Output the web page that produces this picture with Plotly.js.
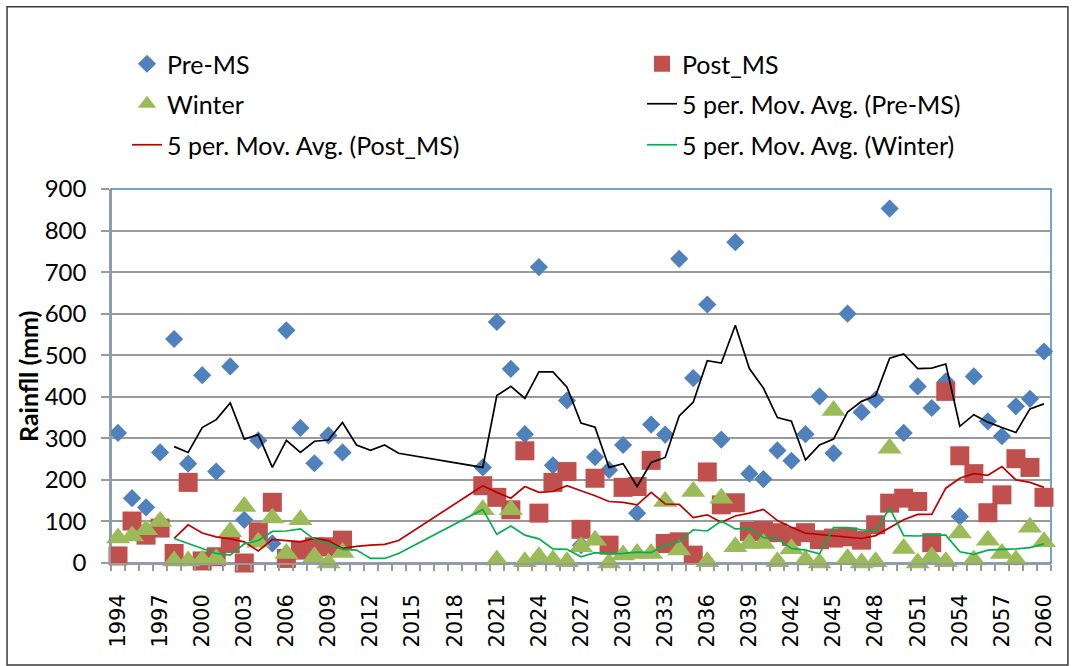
<!DOCTYPE html>
<html>
<head>
<meta charset="utf-8">
<script src="https://cdn.plot.ly/plotly-3.0.1.min.js"></script>
<style>
  html, body { margin: 0; padding: 0; background: #fff; }
  #myDiv { width: 1073px; height: 666px; }
</style>
</head>
<body>
<div id="myDiv"></div>
<script>
// observed years (no data 2011-2019)
var years = [1994, 1995, 1996, 1997, 1998, 1999, 2000, 2001, 2002, 2003, 2004, 2005, 2006, 2007, 2008, 2009, 2010,
  2020, 2021, 2022, 2023, 2024, 2025, 2026, 2027, 2028, 2029, 2030, 2031, 2032, 2033, 2034, 2035, 2036, 2037, 2038, 2039, 2040,
  2041, 2042, 2043, 2044, 2045, 2046, 2047, 2048, 2049, 2050, 2051, 2052, 2053, 2054, 2055, 2056, 2057, 2058, 2059, 2060];

var preMS = [313, 156, 134, 266, 539, 239, 452, 220, 473, 104, 295, 47, 560, 325, 240, 307, 266,
  230, 580, 467, 310, 712, 235, 391, 43, 255, 224, 284, 120, 333, 309, 732, 445, 622, 297, 772, 215, 202,
  271, 246, 310, 401, 264, 600, 363, 393, 853, 313, 425, 373, 437, 112, 449, 341, 305, 377, 395, 509];

var postMS = [17, 101, 67, 84, 23, 194, 5, 15, 47, 0, 75, 146, 11, 31, 39, 39, 55,
  186, 158, 128, 270, 120, 194, 220, 81, 204, 43, 182, 184, 247, 47, 51, 19, 219, 140, 145, 76, 78,
  73, 64, 73, 56, 60, 63, 55, 92, 144, 156, 148, 49, 413, 258, 215, 121, 164, 251, 230, 158];

var winter = [60, 65, 80, 100, 5, 5, 7, 10, 75, 136, 50, 108, 23, 104, 15, 0, 25,
  128, 7, 128, 3, 15, 7, 3, 39, 55, 0, 19, 23, 23, 148, 31, 172, 3, 156, 39, 47, 47,
  3, 34, 7, 0, 367, 11, 0, 3, 276, 35, 0, 15, 3, 72, 7, 55, 23, 7, 86, 51];

// 5 per. moving average trendlines as drawn (Excel plots 2011-2014, then jumps to 2020)
var maYears = [1998, 1999, 2000, 2001, 2002, 2003, 2004, 2005, 2006, 2007, 2008, 2009, 2010, 2011, 2012, 2013, 2014,
  2020, 2021, 2022, 2023, 2024, 2025, 2026, 2027, 2028, 2029, 2030, 2031, 2032, 2033, 2034, 2035, 2036, 2037, 2038, 2039, 2040,
  2041, 2042, 2043, 2044, 2045, 2046, 2047, 2048, 2049, 2050, 2051, 2052, 2053, 2054, 2055, 2056, 2057, 2058, 2059, 2060];

var maPre = [280, 266, 326, 345, 385, 298, 309, 230, 295, 266, 293, 296, 338, 284, 271, 284, 264,
  230, 403, 425, 396, 460, 460, 423, 337, 327, 230, 239, 184, 242, 254, 354, 387, 487, 481, 572, 468, 421,
  350, 341, 248, 284, 298, 363, 389, 403, 493, 503, 468, 469, 479, 329, 357, 339, 326, 314, 371, 383];

var maPost = [59, 92, 72, 63, 58, 51, 29, 57, 54, 51, 59, 54, 35, 40, 43, 45, 54,
  186, 170, 156, 184, 170, 172, 186, 174, 162, 148, 146, 140, 170, 142, 141, 109, 116, 98, 113, 120, 129,
  102, 86, 72, 69, 66, 62, 59, 66, 84, 104, 117, 117, 180, 204, 215, 211, 232, 200, 194, 182];

var maWinter = [59, 47, 35, 23, 19, 46, 54, 76, 77, 82, 57, 47, 33, 31, 11, 11, 23,
  129, 69, 89, 67, 58, 34, 33, 15, 25, 22, 23, 26, 25, 43, 51, 80, 77, 101, 82, 84, 61,
  59, 35, 31, 22, 85, 85, 80, 77, 132, 66, 65, 67, 67, 27, 21, 31, 33, 34, 37, 46];

var tickYears = [1994, 1997, 2000, 2003, 2006, 2009, 2012, 2015, 2018, 2021, 2024, 2027, 2030,
  2033, 2036, 2039, 2042, 2045, 2048, 2051, 2054, 2057, 2060];

var data = [
  {
    x: years, y: preMS, name: "Pre-MS", type: "scatter", mode: "markers",
    marker: { symbol: "diamond", size: 14, color: "#4F81BD" },
    cliponaxis: false, legend: "legend",
  },
  {
    x: years, y: postMS, name: "Post_MS", type: "scatter", mode: "markers",
    marker: { symbol: "square", size: 19, color: "#C0504D" },
    cliponaxis: false, legend: "legend2",
  },
  {
    x: years, y: winter, name: "Winter", type: "scatter", mode: "markers",
    marker: { symbol: "triangle-up", size: 21, color: "#9BBB59" },
    cliponaxis: false, legend: "legend3",
  },
  {
    x: maYears, y: maPre, name: "5 per. Mov. Avg. (Pre-MS)", type: "scatter", mode: "lines",
    line: { color: "#000000", width: 1.7 }, legend: "legend4",
  },
  {
    x: maYears, y: maPost, name: "5 per. Mov. Avg. (Post_MS)", type: "scatter", mode: "lines",
    line: { color: "#C00000", width: 1.7 }, legend: "legend5",
  },
  {
    x: maYears, y: maWinter, name: "5 per. Mov. Avg. (Winter)", type: "scatter", mode: "lines",
    line: { color: "#00B050", width: 1.7 }, legend: "legend6",
  },
];

// one legend box per entry, laid out as Excel's two-column legend
var legendFont = { family: "Lato, sans-serif", size: 25, color: "#000" };
function legendAt(xPix, yPix) {
  return {
    xref: "container", yref: "container",
    x: xPix / 1073, y: 1 - yPix / 666,
    xanchor: "left", yanchor: "middle",
    font: legendFont,
    bgcolor: "rgba(0,0,0,0)",
  };
}

var layout = {
  width: 1073,
  height: 666,
  paper_bgcolor: "#ffffff",
  plot_bgcolor: "#ffffff",
  margin: { l: 111, r: 22, t: 189, b: 103, autoexpand: false },
  showlegend: true,
  legend: legendAt(127, 64),
  legend2: legendAt(642, 64),
  legend3: legendAt(127, 104),
  legend4: legendAt(642, 104),
  legend5: legendAt(127, 145),
  legend6: legendAt(642, 145),
  xaxis: {
    range: [1993.5, 2060.5],
    tickmode: "array",
    tickvals: tickYears,
    ticktext: tickYears.map(String),
    tickangle: -90,
    ticks: "",
    ticklabelstandoff: 21,
    tickfont: { family: "DejaVu Sans, sans-serif", size: 21, color: "#000" },
    showgrid: false,
    zeroline: false,
    showline: true,
    linecolor: "#9a9a9a",
    linewidth: 1.5,
    minor: { tickmode: "linear", tick0: 1993.5, dtick: 1, ticks: "outside", ticklen: 6, tickcolor: "#9a9a9a", tickwidth: 1.5, showgrid: false },
  },
  yaxis: {
    range: [0, 900],
    dtick: 100,
    ticks: "outside",
    ticklen: 8,
    tickcolor: "#9a9a9a",
    tickwidth: 1.5,
    ticklabelstandoff: 10,
    tickfont: { family: "Lato, sans-serif", size: 24, color: "#000" },
    showgrid: true,
    gridcolor: "#9a9a9a",
    gridwidth: 1.5,
    zeroline: false,
    showline: true,
    linecolor: "#9a9a9a",
    linewidth: 1.5,
  },
  annotations: [
    // y axis title (placed by hand: axis title misplaces with fixed margins)
    {
      text: "<b>Rainfll (mm)</b>", xref: "paper", yref: "paper", x: -0.0883, y: 0.5,
      xanchor: "center", yanchor: "middle", textangle: -90, showarrow: false,
      font: { family: "Lato, sans-serif", size: 25, color: "#000" },
    },
  ],
  shapes: [
    // plot-area border (blue top and right)
    { type: "rect", xref: "paper", yref: "paper", x0: 0, x1: 1, y0: 0, y1: 1, line: { color: "#4F81BD", width: 1.5 }, layer: "below" },
    // chart frame
    { type: "rect", xref: "paper", yref: "paper", x0: -0.1106, x1: 1.018, y0: -0.2727, y1: 1.487, line: { color: "#3a3a3a", width: 1.5 } },
  ],
};

var config = { displayModeBar: false, responsive: false };

Plotly.newPlot("myDiv", data, layout, config);
</script>
</body>
</html>
